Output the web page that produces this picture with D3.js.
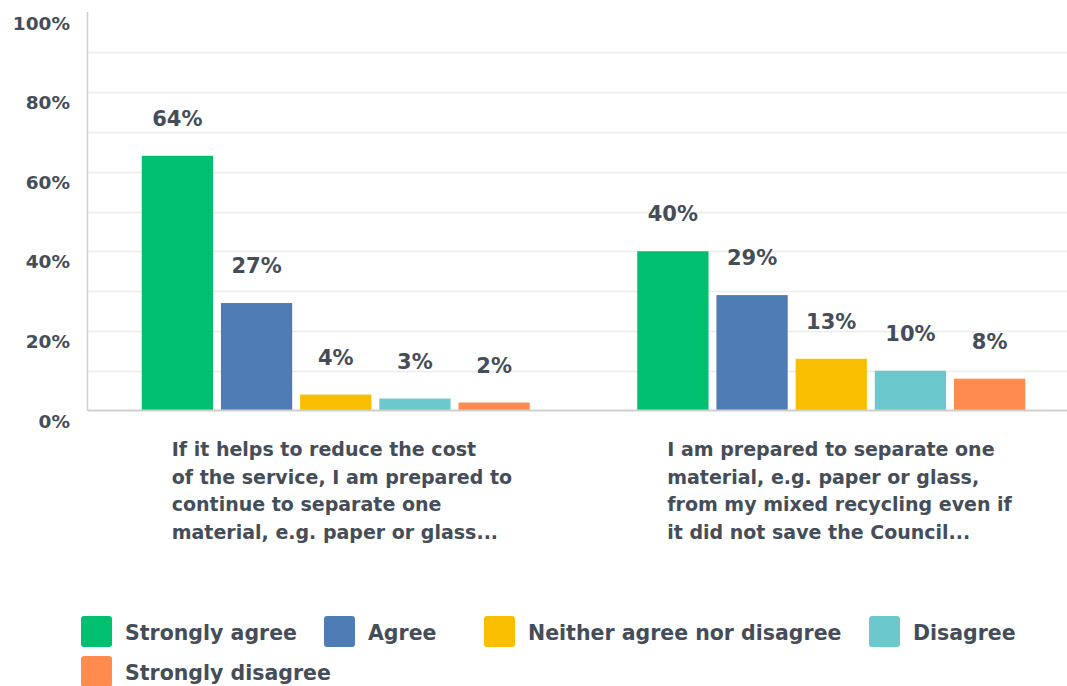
<!DOCTYPE html>
<html><head><meta charset="utf-8">
<script src="https://cdn.jsdelivr.net/npm/d3@7"></script>
<style>
body{margin:0;background:#fff;}
text{font-family:"DejaVu Sans",sans-serif;font-weight:bold;fill:#444d58;}
</style></head>
<body><svg id="c" width="1067" height="686"></svg>
<script>
const categories = ["Q1","Q2"];
const categoryLines = [
  ["If it helps to reduce the cost","of the service, I am prepared to","continue to separate one","material, e.g. paper or glass..."],
  ["I am prepared to separate one","material, e.g. paper or glass,","from my mixed recycling even if","it did not save the Council..."]
];
const seriesNames = ["Strongly agree","Agree","Neither agree nor disagree","Disagree","Strongly disagree"];
const seriesColors = ["#00bf6f","#507cb6","#f9be00","#6bc8cd","#ff8b4f"];
const q1Values = [64,27,4,3,2];
const q2Values = [40,29,13,10,8];
const yTicks = [0,20,40,60,80,100];

const values = [q1Values, q2Values];
const svg = d3.select("#c");
const y = d3.scaleLinear().domain([0,100]).range([410.5,12.5]);
const x0 = d3.scaleBand().domain(categories).range([88,1079]).padding(0);
const bw0 = x0.bandwidth();
const x1 = d3.scaleBand().domain(seriesNames).range([(bw0-388)/2,(bw0+388)/2]).paddingInner(0.1).paddingOuter(0);

// gridlines
svg.append("g").selectAll("line").data(d3.range(10,100,10)).join("line")
  .attr("x1",88).attr("x2",1067).attr("y1",d=>Math.round(y(d))+0.5).attr("y2",d=>Math.round(y(d))+0.5)
  .attr("stroke","#ececec").attr("stroke-width",1.5);
// y axis line
svg.append("line").attr("x1",87.5).attr("x2",87.5).attr("y1",12).attr("y2",411).attr("stroke","#d0d0d0").attr("stroke-width",1.5);

// y tick labels
const yAxis = d3.axisLeft(y).tickValues(yTicks).tickFormat(d=>d+"%").tickSize(0).tickPadding(0);
const ga = svg.append("g").attr("transform","translate(70,0)").call(yAxis);
ga.select(".domain").remove();
ga.selectAll("text").attr("dy",null).attr("y",16.5).style("font-size","18.5px")
  .attr("fill","#444d58").attr("font-family",null);

// bars
const groups = svg.append("g").selectAll("g").data(categories).join("g")
  .attr("transform",d=>`translate(${x0(d)},0)`);
groups.each(function(cat,ci){
  const g = d3.select(this);
  const data = seriesNames.map((s,i)=>({s,v:values[ci][i],c:seriesColors[i]}));
  g.selectAll("rect").data(data).join("rect")
    .attr("x",d=>x1(d.s)).attr("width",x1.bandwidth())
    .attr("y",d=>y(d.v)).attr("height",d=>y(0)-y(d.v)).attr("fill",d=>d.c);
  g.selectAll("text.v").data(data).join("text").attr("class","v")
    .attr("x",d=>x1(d.s)+x1.bandwidth()/2).attr("y",d=>y(d.v)-30)
    .attr("text-anchor","middle").style("font-size","21px").text(d=>d.v+"%");
  const t = g.append("text").attr("x",bw0/2-164).attr("y",456).style("font-size","19px");
  categoryLines[ci].forEach((ln,li)=>{
    t.append("tspan").attr("x",bw0/2-164).attr("dy",li?27.5:0).text(ln);
  });
});

// baseline
svg.append("line").attr("x1",88).attr("x2",1067).attr("y1",410.5).attr("y2",410.5).attr("stroke","#cfcfcf").attr("stroke-width",2);

// legend
const legendPos = [[81,616],[324,616],[484,616],[869,616],[81,656]];
const lg = svg.append("g").selectAll("g").data(seriesNames).join("g")
  .attr("transform",(d,i)=>`translate(${legendPos[i][0]},${legendPos[i][1]})`);
lg.append("rect").attr("width",31).attr("height",31).attr("rx",3).attr("fill",(d,i)=>seriesColors[i]);
lg.append("text").attr("x",44).attr("y",23.5).style("font-size","20.5px").text(d=>d);
</script></body></html>
